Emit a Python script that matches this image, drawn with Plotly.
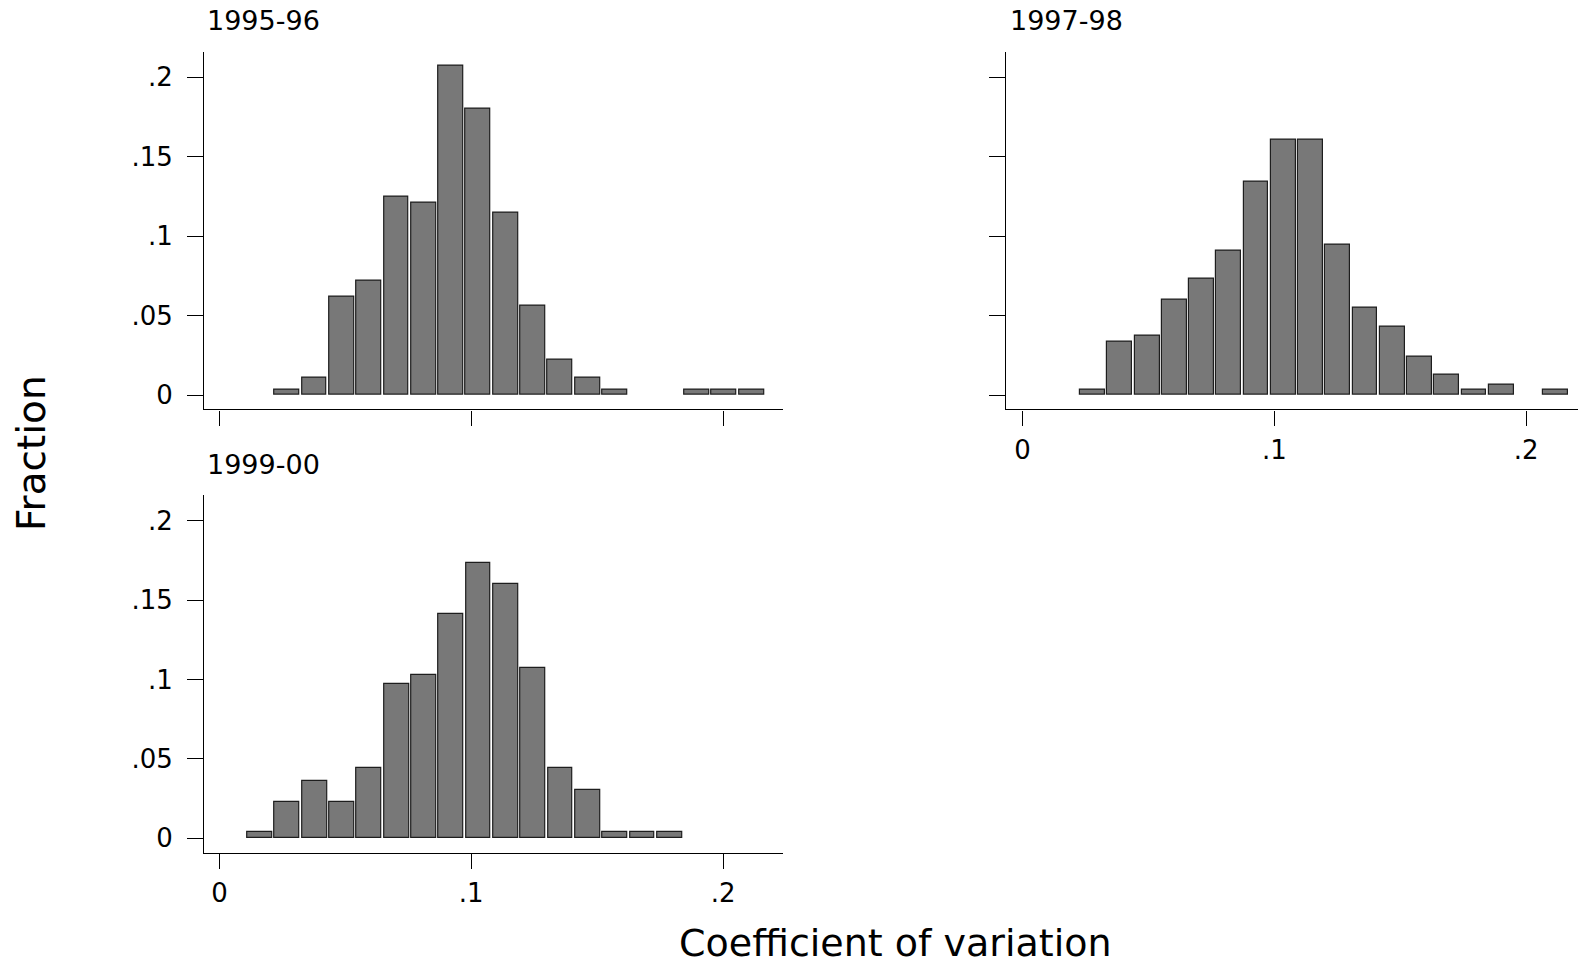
import plotly.graph_objects as go

W, H = 1578, 966

# ---- data ----
panel_titles = ["1995-96", "1997-98", "1999-00"]

start_9596 = 0.0214
width_9596 = 0.01085
frac_9596 = [0.0035, 0.011, 0.062, 0.0718, 0.125, 0.121, 0.207, 0.180, 0.115,
             0.0565, 0.022, 0.011, 0.0035, None, None, 0.0035, 0.0035, 0.0035]

start_9798 = 0.0224
width_9798 = 0.01082
frac_9798 = [0.0035, 0.0338, 0.0374, 0.0602, 0.0735, 0.0909, 0.1345, 0.161, 0.161,
             0.0944, 0.0548, 0.043, 0.0241, 0.013, 0.0035, 0.0067, None, 0.0035]

start_9900 = 0.0106
width_9900 = 0.01085
frac_9900 = [0.0038, 0.0227, 0.0361, 0.0227, 0.0441, 0.0974, 0.1026, 0.141, 0.1736,
             0.1603, 0.107, 0.0441, 0.0306, 0.0038, 0.0038, 0.0038]

y_tickvals = [0, 0.05, 0.1, 0.15, 0.2]
y_ticktext = ["0", ".05", ".1", ".15", ".2"]
x_tickvals = [0, 0.1, 0.2]
x_ticktext = ["0", ".1", ".2"]

x_title = "Coefficient of variation"
y_title = "Fraction"

FONT = "DejaVu Sans"
FILL = "#787878"
EDGE = "#1e1e1e"

fig = go.Figure()

def add_hist(start, width, fracs, xa, ya):
    centers = [start + (i + 0.5) * width for i in range(len(fracs))]
    fig.add_trace(go.Bar(
        x=centers, y=fracs, width=[width * 0.91] * len(fracs),
        marker=dict(color=FILL, line=dict(color=EDGE, width=1.2)),
        xaxis=xa, yaxis=ya, showlegend=False, hoverinfo="skip",
    ))

add_hist(start_9596, width_9596, frac_9596, "x", "y")
add_hist(start_9798, width_9798, frac_9798, "x2", "y2")
add_hist(start_9900, width_9900, frac_9900, "x3", "y3")

def px_x(p):
    return p / W

def px_y(p):
    return (H - p) / H

dom_x_left = [px_x(204.3), px_x(783)]
dom_x_right = [px_x(1006), 1.0]
dom_y_top = [px_y(409.3), px_y(51.7)]
dom_y_bot = [px_y(852.7), px_y(495)]

def xaxis(domain, rng, anchor, labels=True):
    return dict(
        domain=domain, range=rng, anchor=anchor,
        showline=True, linecolor="black", linewidth=1.4,
        ticks="outside", ticklen=15, tickwidth=1.2, tickcolor="black",
        tickvals=x_tickvals, ticktext=x_ticktext if labels else ["", "", ""],
        showticklabels=labels, showgrid=False, zeroline=False,
        tickfont=dict(family=FONT, size=26, color="black"),
        ticklabelstandoff=2, fixedrange=True,
    )

def yaxis(domain, rng, anchor, labels=True):
    return dict(
        domain=domain, range=rng, anchor=anchor,
        showline=True, linecolor="black", linewidth=1.4,
        ticks="outside", ticklen=16, tickwidth=1.2, tickcolor="black",
        tickvals=y_tickvals, ticktext=y_ticktext,
        showticklabels=labels, showgrid=False, zeroline=False,
        tickfont=dict(family=FONT, size=26, color="black"),
        ticklabelstandoff=9, fixedrange=True,
    )

fig.update_layout(
    width=W, height=H,
    margin=dict(l=0, r=0, t=0, b=0),
    paper_bgcolor="white", plot_bgcolor="white",
    bargap=0,
    xaxis=xaxis(dom_x_left, [-0.0060, 0.2238], "y", labels=False),
    yaxis=yaxis(dom_y_top, [-0.0090, 0.2161], "x"),
    xaxis2=xaxis(dom_x_right, [-0.0066, 0.2206], "y2"),
    yaxis2=yaxis(dom_y_top, [-0.0090, 0.2161], "x2", labels=False),
    xaxis3=xaxis(dom_x_left, [-0.0060, 0.2238], "y3"),
    yaxis3=yaxis(dom_y_bot, [-0.0091, 0.2162], "x3"),
)

title_pos = [(205, 20.5), (1008, 20.5), (205, 464)]
for t, (tx, ty) in zip(panel_titles, title_pos):
    fig.add_annotation(
        text=t, x=px_x(tx), y=px_y(ty), xref="paper", yref="paper",
        xanchor="left", yanchor="middle", showarrow=False,
        font=dict(family=FONT, size=27, color="black"),
    )

fig.add_annotation(
    text=x_title, x=px_x(895), y=px_y(943), xref="paper", yref="paper",
    xanchor="center", yanchor="middle", showarrow=False,
    font=dict(family=FONT, size=38, color="black"),
)
fig.add_annotation(
    text=y_title, x=px_x(31), y=px_y(453), xref="paper", yref="paper",
    xanchor="center", yanchor="middle", showarrow=False, textangle=-90,
    font=dict(family=FONT, size=39, color="black"),
)

fig.write_html("out.html")
